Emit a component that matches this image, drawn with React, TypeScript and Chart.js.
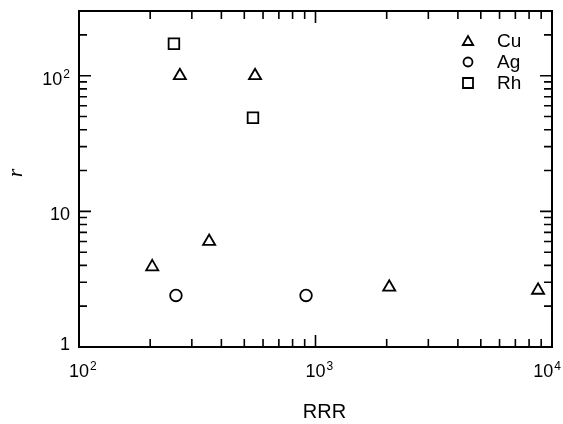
import { useEffect, useRef } from "react";
import { Chart, registerables } from "chart.js";

Chart.register(...registerables);

// Residual resistance ratio (RRR) versus r for three metals
const cuRRR = [204, 267, 355, 555, 2050, 8730];
const cuR = [3.9, 100, 6.0, 100, 2.76, 2.62];
const agRRR = [257, 912];
const agR = [2.4, 2.4];
const rhRRR = [252, 544];
const rhR = [172, 49];

const seriesNames = ["Cu", "Ag", "Rh"];
const seriesSymbols = ["triangle", "circle", "rect"];

const xMin = 100;
const xMax = 10000;
const yMin = 1;
const yMax = 300;

const xTickValues = [100, 1000, 10000];
const xTickBase = ["10", "10", "10"];
const xTickExp = ["2", "3", "4"];
const yTickValues = [1, 10, 100];
const yTickBase = ["1", "10", "10"];
const yTickExp = ["", "", "2"];

const SANS = "'Liberation Sans', Arial, Helvetica, sans-serif";

function toPoints(xs: number[], ys: number[]) {
  return xs.map((x, i) => ({ x, y: ys[i] }));
}

function minorValues(min: number, max: number) {
  const out: { v: number; major: boolean }[] = [];
  for (let k = Math.floor(Math.log10(min)); k <= Math.ceil(Math.log10(max)); k++) {
    for (let m = 1; m <= 9; m++) {
      const v = m * Math.pow(10, k);
      if (v >= min * 0.9999 && v <= max * 1.0001) out.push({ v, major: m === 1 });
    }
  }
  return out;
}

function drawLabel(
  ctx: CanvasRenderingContext2D,
  base: string,
  exp: string,
  x: number,
  y: number,
  align: "center" | "right",
  maxRight: number
) {
  const mainFont = `18px ${SANS}`;
  const supFont = `12px ${SANS}`;
  ctx.font = mainFont;
  const wb = ctx.measureText(base).width;
  ctx.font = supFont;
  const we = exp ? ctx.measureText(exp).width + 1 : 0;
  const total = wb + we;
  let start = align === "center" ? x - wb / 2 : x - total;
  if (start + total > maxRight) start = maxRight - total;
  ctx.textAlign = "left";
  ctx.textBaseline = "alphabetic";
  ctx.font = mainFont;
  ctx.fillText(base, start, y);
  if (exp) {
    ctx.font = supFont;
    ctx.fillText(exp, start + wb + 1, y - 7);
  }
}

function drawSymbol(ctx: CanvasRenderingContext2D, kind: string, x: number, y: number) {
  ctx.beginPath();
  if (kind === "triangle") {
    const r = 6;
    for (let i = 0; i < 3; i++) {
      const a = (i * 2 * Math.PI) / 3;
      const px = x + Math.sin(a) * r;
      const py = y - Math.cos(a) * r + 1;
      if (i === 0) ctx.moveTo(px, py);
      else ctx.lineTo(px, py);
    }
    ctx.closePath();
  } else if (kind === "circle") {
    ctx.arc(x, y, 4.5, 0, Math.PI * 2);
  } else {
    ctx.rect(x - 5, y - 5, 10, 10);
  }
  ctx.stroke();
}

const framePlugin = {
  id: "frameAndLabels",
  afterDatasetsDraw(chart: any) {
    const { ctx, chartArea } = chart;
    const { left, right, top, bottom } = chartArea;
    const xs = chart.scales.x;
    const ys = chart.scales.y;
    ctx.save();
    ctx.strokeStyle = "#000";
    ctx.fillStyle = "#000";

    // inward ticks on all four sides
    ctx.lineWidth = 1.6;
    ctx.beginPath();
    for (const t of minorValues(xMin, xMax)) {
      const px = xs.getPixelForValue(t.v);
      const len = t.major ? 12 : 8;
      ctx.moveTo(px, bottom);
      ctx.lineTo(px, bottom - len);
      ctx.moveTo(px, top);
      ctx.lineTo(px, top + len);
    }
    for (const t of minorValues(yMin, yMax)) {
      const py = ys.getPixelForValue(t.v);
      const len = t.major ? 12 : 8;
      ctx.moveTo(left, py);
      ctx.lineTo(left + len, py);
      ctx.moveTo(right, py);
      ctx.lineTo(right - len, py);
    }
    ctx.stroke();

    // frame
    ctx.lineWidth = 2;
    ctx.strokeRect(left, top, right - left, bottom - top);

    // tick labels
    const W = chart.width;
    xTickValues.forEach((v, i) => {
      drawLabel(ctx, xTickBase[i], xTickExp[i], xs.getPixelForValue(v), bottom + 30, "center", W - 2);
    });
    yTickValues.forEach((v, i) => {
      const py = ys.getPixelForValue(v);
      drawLabel(ctx, yTickBase[i], yTickExp[i], left - 9, Math.min(py + 9, bottom + 3), "right", W);
    });

    // axis titles
    ctx.font = `20px ${SANS}`;
    ctx.textAlign = "center";
    ctx.textBaseline = "alphabetic";
    ctx.fillText("RRR", (left + right) / 2 + 9, bottom + 71);

    ctx.save();
    ctx.translate(22, 173);
    ctx.rotate(-Math.PI / 2);
    ctx.font = "italic 22px 'Liberation Serif', 'Times New Roman', serif";
    ctx.textAlign = "center";
    ctx.fillText("r", 0, 0);
    ctx.restore();

    // legend
    ctx.lineWidth = 1.8;
    seriesNames.forEach((name, i) => {
      const ly = 41 + i * 21;
      drawSymbol(ctx, seriesSymbols[i], 468, ly);
      ctx.font = `19px ${SANS}`;
      ctx.textAlign = "left";
      ctx.textBaseline = "middle";
      ctx.fillText(name, 497, ly + 1);
    });

    ctx.restore();
  },
};

export default function App() {
  const ref = useRef<HTMLCanvasElement | null>(null);

  useEffect(() => {
    if (!ref.current) return;
    const common = {
      backgroundColor: "rgba(0,0,0,0)",
      borderColor: "#000",
      borderWidth: 1.8,
      showLine: false,
    };
    const chart = new Chart(ref.current, {
      type: "scatter",
      data: {
        datasets: [
          { ...common, label: seriesNames[0], data: toPoints(cuRRR, cuR), pointStyle: "triangle", pointRadius: 7 },
          { ...common, label: seriesNames[1], data: toPoints(agRRR, agR), pointStyle: "circle", pointRadius: 5.8 },
          { ...common, label: seriesNames[2], data: toPoints(rhRRR, rhR), pointStyle: "rect", pointRadius: 7.5 },
        ],
      },
      options: {
        animation: false,
        responsive: false,
        devicePixelRatio: 1,
        layout: { padding: { left: 79, top: 11, right: 11, bottom: 77 } },
        plugins: { legend: { display: false }, tooltip: { enabled: false } },
        scales: {
          x: { type: "logarithmic", min: xMin, max: xMax, display: false },
          y: { type: "logarithmic", min: yMin, max: yMax, display: false },
        },
      },
      plugins: [framePlugin],
    });
    return () => chart.destroy();
  }, []);

  return (
    <canvas
      ref={ref}
      width={563}
      height={424}
      style={{ position: "absolute", left: 0, top: 0, display: "block", background: "#fff" }}
    />
  );
}
